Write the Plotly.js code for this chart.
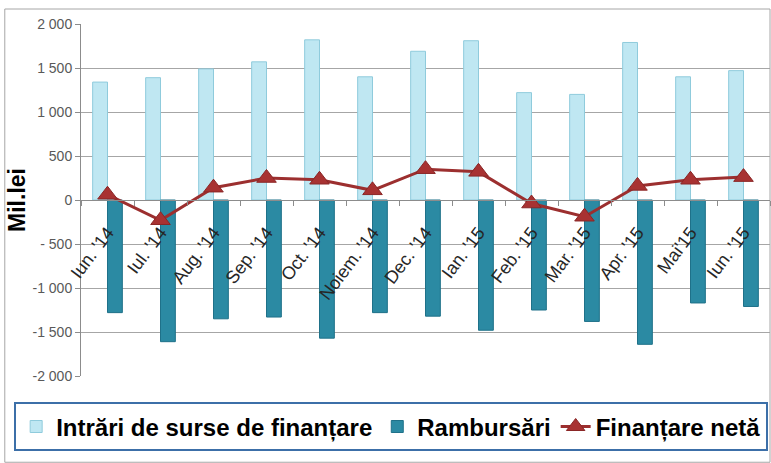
<!DOCTYPE html>
<html><head><meta charset="utf-8">
<script src="https://cdn.plot.ly/plotly-3.0.1.min.js"></script>
<style>html,body{margin:0;padding:0;background:#fff}#chart{width:771px;height:463px}</style>
</head><body><div id="chart"></div>
<script>
const categories = ["Iun. '14","Iul. '14","Aug. '14","Sep. '14","Oct. '14","Noiem. '14","Dec. '14","Ian. '15","Feb. '15","Mar. '15","Apr. '15","Mai'15","Iun. '15"];
const intrari = [1340,1390,1490,1570,1820,1400,1690,1810,1220,1200,1790,1400,1470];
const rambursari = [-1280,-1610,-1350,-1330,-1570,-1280,-1320,-1480,-1250,-1380,-1640,-1170,-1210];
const finantareNeta = [60,-230,140,250,230,110,350,320,-40,-190,160,230,260];
const yTickVals = [2000,1500,1000,500,0,-500,-1000,-1500,-2000];
const yTickText = ["2 000","1 500","1 000","500","0","- 500","-1 000","-1 500","-2 000"];

const traces = [
  {type:'bar', name:'Intrări de surse de finanțare', x:categories, y:intrari,
   marker:{color:'#bfe7f2', line:{color:'#8fcbdc', width:1}}},
  {type:'bar', name:'Rambursări', x:categories, y:rambursari,
   marker:{color:'#2b8aa3', line:{color:'#1f7189', width:1}}},
  {type:'scatter', mode:'lines+markers', name:'Finanțare netă', x:categories, y:finantareNeta,
   line:{color:'#9c2f2f', width:3},
   marker:{symbol:'triangle-up', size:17, color:'#a83232', line:{color:'#8a2626', width:1}}}
];

const layout = {
  width:771, height:463,
  margin:{l:81, r:1, t:24, b:87},
  paper_bgcolor:'#fff', plot_bgcolor:'#fff',
  barmode:'group', bargap:0.44, bargroupgap:0,
  showlegend:true,
  font:{family:'Liberation Sans, Arial, sans-serif', color:'#404040'},
  xaxis:{anchor:'free', position:0.5, range:[-0.5, 12.5], automargin:false, showgrid:false, showline:true, linecolor:'#8c8c8c', linewidth:1,
         ticks:'outside', ticklen:5, tickcolor:'#8c8c8c', tickson:'boundaries', ticklabelstandoff:14,
         tickangle:-53, tickfont:{family:'Liberation Sans, Arial, sans-serif', size:18, color:'#262626'},
         fixedrange:true},
  yaxis:{range:[-2000,2000], automargin:false, tickvals:yTickVals, ticktext:yTickText, showgrid:true, gridcolor:'#a6a6a6', gridwidth:1,
         zeroline:false, showline:true, linecolor:'#8c8c8c', ticks:'outside', ticklen:5, tickcolor:'#8c8c8c',
         tickfont:{size:14, color:'#595959'},
         title:{text:'<b>Mil.lei</b>', font:{size:23, color:'#000'}, standoff:0}},
  legend:{orientation:'h', x:-0.097, xanchor:'left', y:-0.075, yanchor:'top',
          bordercolor:'#3c6fa8', borderwidth:2, bgcolor:'#fff', itemwidth:30,
          font:{family:'Liberation Sans, Arial, sans-serif', size:24, color:'#000', weight:'bold'}, traceorder:'normal'},
  shapes:[{type:'rect', xref:'paper', yref:'paper', x0:-0.1106, x1:1.0, y0:-0.245, y1:1.0426,
           line:{color:'#a6a6a6', width:1}, layer:'below'}]
};
Plotly.newPlot('chart', traces, layout, {displayModeBar:false, staticPlot:true});
</script></body></html>
